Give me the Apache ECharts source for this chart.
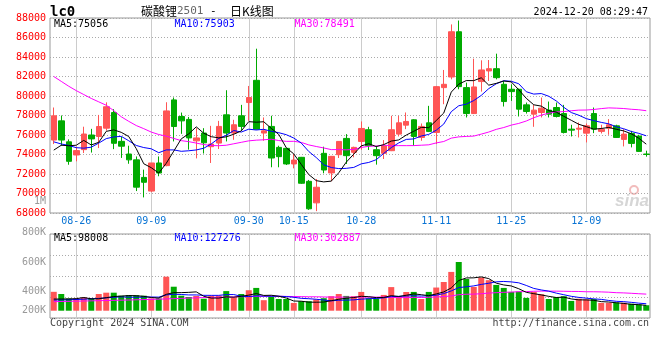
<!DOCTYPE html>
<html><head><meta charset="utf-8">
<script src="https://cdn.jsdelivr.net/npm/echarts/dist/echarts.min.js"></script>
<style>html,body{margin:0;padding:0;background:#fff}#c{width:660px;height:360px}</style>
</head><body><div id="c"></div>
<script>
const dates = ['08-21','08-22','08-23','08-26','08-27','08-28','08-29','08-30','09-02','09-03',
'09-04','09-05','09-06','09-09','09-10','09-11','09-12','09-13','09-18','09-19',
'09-20','09-23','09-24','09-25','09-26','09-27','09-30','10-08','10-09','10-10',
'10-11','10-14','10-15','10-16','10-17','10-18','10-21','10-22','10-23','10-24',
'10-25','10-28','10-29','10-30','10-31','11-01','11-04','11-05','11-06','11-07',
'11-08','11-11','11-12','11-13','11-14','11-15','11-18','11-19','11-20','11-21',
'11-22','11-25','11-26','11-27','11-28','11-29','12-02','12-03','12-04','12-05',
'12-06','12-09','12-10','12-11','12-12','12-13','12-16','12-17','12-18','12-19'];
const labelDates = ['08-26','09-09','09-30','10-15','10-28','11-11','11-25','12-09'];

const open = [75480,77450,75300,73950,74500,76000,75850,76700,78300,75350,
74050,73450,71650,70250,73130,72860,79600,77900,77600,75400,
76200,74800,75170,78070,76200,77970,79330,81610,76200,76880,
74730,74630,73030,73710,71250,69040,74120,72110,73980,75650,
74220,75340,76540,74490,74120,74390,76090,77010,77560,75750,
77250,76260,80860,81950,86590,80860,78200,81480,82570,82800,
81200,80690,80690,79090,78140,78310,78550,78820,78200,76600,
76600,76190,78200,76370,76700,76940,75550,76160,75890,74050];
const high = [78820,78000,75550,74800,76850,76630,78060,79350,78650,75800,
74900,73800,72450,73130,73800,79360,79850,78300,77850,76700,
76700,76940,77450,80590,77560,79090,81030,84850,77800,77970,
74900,74650,74050,73750,71390,71490,74800,73850,75380,76090,
74800,77390,76840,74900,75480,77970,77970,78310,77630,77180,
78990,81030,82670,87340,87740,81370,83830,83660,83690,84340,
81540,81200,80750,79330,79090,79840,79430,79330,79090,77050,
77280,77180,78820,77050,77630,77050,76600,76430,76020,74390];
const low = [75070,74900,72950,73300,74150,74200,74660,76450,74550,73650,
73050,70250,69600,70130,71770,72790,75340,76120,74500,73600,
74100,73130,74560,75340,75510,76430,77450,76570,75410,72690,
72690,72920,72580,70980,68320,68190,72070,71250,73640,73030,
73710,74490,74460,72960,73540,74350,75850,76600,74900,75410,
76300,75070,79160,81710,80690,77800,78150,80450,81540,81710,
78920,79500,77900,78200,76840,77800,77800,77800,76160,75850,
75750,75240,76190,76160,76020,75700,74830,74730,74300,73780];
const close = [77970,75480,73300,74400,76100,75600,76870,78900,75150,74850,
73450,70650,71150,73130,72100,78470,76870,77450,75700,75700,
75200,75070,76880,76200,77050,76880,79840,76600,76430,73640,
73780,73030,73430,71050,68430,70640,72410,73810,75340,73880,
74730,76670,74900,73880,74900,76540,77250,77390,75850,76880,
76370,80960,81200,86590,80960,78200,80930,82670,82800,81880,
79430,80450,78650,78410,78550,78750,78140,77900,76260,76500,
76700,76940,76600,76600,77050,75750,76090,75140,74320,74000];

const ma5 = [74450,74950,74900,74950,75450,74976,75254,76374,76524,76274,
75844,74600,73050,72646,72096,73100,74344,75604,76118,76838,
76184,75824,75710,75810,76080,76416,77370,77314,77360,76678,
76058,74696,74062,72986,71944,71316,71192,71268,72126,73216,
74034,74886,75104,74812,75016,75378,75494,75992,76386,76782,
76748,77490,78252,80400,81216,81582,81576,81870,81112,81296,
81542,81446,80642,79764,79098,78962,78500,78350,77920,77510,
77100,76860,76600,76668,76778,76588,76418,76126,75670,75060];
const ma10 = [75300,75080,74930,74700,74650,74750,75170,75630,75800,75862,
75410,74927,74712,74585,74185,74472,74472,74327,74382,74467,
74642,75084,75657,75964,76459,76300,76597,76512,76585,76379,
76237,76033,75688,75173,74311,73687,72944,72665,72556,72580,
72675,73039,73186,73469,74116,74706,75190,75548,75599,75899,
76063,76492,77122,78393,78999,79165,79533,80061,80756,81256,
81562,81511,81256,80438,80197,80252,79973,79496,78842,78304,
78031,77680,77475,77294,77144,76844,76639,76363,76169,75919];
const ma30 = [82000,81500,81000,80550,80150,79750,79400,79050,78500,77870,
77400,76970,76650,76300,76050,75880,75650,75420,75320,75170,
75020,74920,74900,74950,75100,75250,75400,75470,75510,75569,
75430,75348,75352,75241,74985,74820,74671,74501,74508,74475,
74518,74719,74844,74869,74962,74898,74910,74908,74913,74953,
74992,75188,75332,75678,75809,75853,75889,76091,76304,76578,
76767,77014,77188,77433,77771,78041,78232,78368,78399,78486,
78552,78561,78618,78708,78780,78754,78715,78640,78589,78493];

// volumes in thousands of lots
const volumeK = [345,305,223,223,243,224,305,329,329,274,
283,283,274,224,224,621,438,274,250,270,
219,274,274,358,243,305,374,416,192,256,
214,214,142,173,173,206,228,265,305,270,
265,343,228,219,288,431,265,341,343,214,
343,423,524,708,889,579,434,606,557,471,
416,343,350,234,343,301,214,248,265,179,
219,206,214,142,144,151,146,128,115,100];
const vma5K = [213,213,215,220,241,217,217,238,259,266,
277,273,262,241,231,299,330,330,335,344,
264,231,231,252,247,264,284,313,279,282,
264,232,177,173,157,155,158,183,209,228,
240,263,256,239,242,275,260,282,307,292,
275,306,343,416,551,598,600,617,586,503,
470,452,401,336,311,288,262,241,248,215,
198,197,190,166,159,145,133,116,110,98];
const vma10K = [195,null,200,null,210,null,225,null,245,253,
247,245,250,250,248,288,301,296,288,288,
281,280,280,294,295,264,258,272,266,264,
264,258,245,226,219,209,195,180,191,193,
198,211,219,224,235,258,261,269,273,267,
275,283,313,361,422,436,453,480,501,527,
534,526,509,461,407,379,357,321,292,263,
243,229,216,207,187,172,165,153,138,127];
const vma30K = [165,null,null,null,null,180,null,null,null,null,
195,null,null,null,null,215,null,null,null,null,
240,null,null,null,null,255,null,null,265,268,
264,261,258,257,254,254,251,249,248,248,
248,250,248,248,250,244,238,240,243,241,
245,251,259,270,292,301,303,310,322,329,
336,340,347,349,355,358,357,357,355,352,
351,346,346,343,338,329,325,318,310,303];

const maPriceText = ['MA5:75056','MA10:75903','MA30:78491'];
const maVolText = ['MA5:98008','MA10:127276','MA30:302887'];
const volTickLabels = ['1M','800K','600K','400K','200K'];
const titleCode = 'lc0';
const titleName = '碳酸锂';
const titleContract = '2501';
const titleSuffix = '日K线图';
const stamp = '2024-12-20 08:29:47';
const footerLeft = 'Copyright 2024 SINA.COM';
const footerRight = 'http://finance.sina.com.cn';

// ---- layout / style ----
const FONT = '"DejaVu Sans Mono", monospace';
const UP = '#ff5555', DOWN = '#00aa00';
const GRIDC = '#aaaaaa', DOT = [1, 2];
const VGRIDC = '#cccccc';
const maColors = ['#000000', '#0000ff', '#ff00ff'];
const headerX = [54, 174.5, 294.5];
const volLabelY = [201, 232, 262, 291, 310];

const chart = echarts.init(document.getElementById('c'), null, {renderer: 'canvas'});

const kdata = dates.map((d, i) => [open[i], close[i], low[i], high[i]]);
const isLabelDate = (i, v) => labelDates.indexOf(dates[i]) >= 0 || labelDates.indexOf(v) >= 0;
const vSplit = {show: true, interval: isLabelDate, alignWithLabel: true,
  lineStyle: {color: VGRIDC, type: 'solid', width: 1}};

const maLine = (data, color, gi) => ({
  type: 'line', data, xAxisIndex: gi, yAxisIndex: gi, showSymbol: false, symbol: 'none',
  connectNulls: true, z: 4, silent: true,
  lineStyle: {width: 1, color}, itemStyle: {color}
});

const txt = (x, y, text, fill, extra) => ({type: 'text', x, y, silent: true,
  style: Object.assign({text, fill, font: '10px ' + FONT, verticalAlign: 'middle', align: 'left'}, extra || {})});

const graphic = [
  txt(50, 12, titleCode, '#000', {font: 'bold 14px ' + FONT}),
  {type: 'text', x: 141, y: 11, silent: true, style: {
    text: '{a|' + titleName + '}{b|' + titleContract + '}{c| -  }{a|' + titleSuffix + '}',
    verticalAlign: 'middle',
    rich: {a: {fill: '#000', font: '12px "Noto Sans CJK SC"'},
           b: {fill: '#666', font: '11px ' + FONT},
           c: {fill: '#000', font: '11px ' + FONT}}}},
  txt(648, 12, stamp, '#000', {align: 'right'}),
  txt(50, 323, footerLeft, '#444'),
  txt(649, 323, footerRight, '#444', {align: 'right'}),
  txt(649, 201, 'sina', '#d6d6d6', {align: 'right', font: 'italic bold 17px Arial, "Liberation Sans"'}),
  {type: 'circle', silent: true, shape: {cx: 634, cy: 190, r: 4}, style: {fill: 'none', stroke: '#f2bcbc', lineWidth: 2}}
];
maPriceText.forEach((t, i) => graphic.push(txt(headerX[i], 24, t, maColors[i])));
maVolText.forEach((t, i) => graphic.push(txt(headerX[i], 238.5, t, maColors[i])));
volTickLabels.forEach((t, i) => graphic.push(txt(46, volLabelY[i], t, '#999', {align: 'right'})));

const option = {
  animation: false,
  backgroundColor: '#fff',
  grid: [
    {left: 50, right: 10, top: 18, height: 195, show: true, borderColor: '#999', borderWidth: 1},
    {left: 50, right: 10, top: 234, height: 84, show: true, borderColor: '#999', borderWidth: 1}
  ],
  xAxis: [
    {type: 'category', data: dates, gridIndex: 0, boundaryGap: true,
     axisLine: {show: false}, axisTick: {show: false, alignWithLabel: true, interval: isLabelDate},
     splitLine: vSplit,
     axisLabel: {interval: isLabelDate, color: '#0a74d4',
       fontFamily: FONT, fontSize: 10, margin: 3}},
    {type: 'category', data: dates, gridIndex: 1, boundaryGap: true,
     axisLine: {show: false}, axisTick: {show: false, alignWithLabel: true, interval: isLabelDate},
     axisLabel: {show: false, interval: isLabelDate}, splitLine: vSplit}
  ],
  yAxis: [
    {type: 'value', gridIndex: 0, min: 68000, max: 88000, interval: 2000,
     axisLine: {show: false}, axisTick: {show: false},
     splitLine: {show: true, lineStyle: {color: GRIDC, type: DOT, width: 1}},
     axisLabel: {color: '#ff0000', fontFamily: FONT, fontSize: 10, margin: 4,
       formatter: v => String(v),
       padding: [0, 0, 4, 0], showMinLabel: true, showMaxLabel: true}},
    {type: 'value', gridIndex: 1, min: -133, max: 1400, show: false, splitLine: {show: false}},
    {type: 'value', gridIndex: 1, min: 0, max: 4, interval: 1, position: 'left',
     axisLine: {show: false}, axisTick: {show: false}, axisLabel: {show: false},
     splitLine: {show: true, lineStyle: {color: GRIDC, type: DOT, width: 1}}}
  ],
  graphic,
  series: [
    {type: 'candlestick', data: kdata, xAxisIndex: 0, yAxisIndex: 0, barWidth: 6, z: 2, silent: true,
     itemStyle: {color: UP, color0: DOWN, borderColor: UP, borderColor0: DOWN, borderWidth: 1}},
    maLine(ma30, maColors[2], 0),
    maLine(ma10, maColors[1], 0),
    maLine(ma5, maColors[0], 0),
    {type: 'bar', data: volumeK, xAxisIndex: 1, yAxisIndex: 1, barWidth: 6, z: 2, silent: true,
     itemStyle: {color: p => close[p.dataIndex] >= open[p.dataIndex] ? UP : DOWN}},
    maLine(vma30K, maColors[2], 1),
    maLine(vma10K, maColors[1], 1),
    maLine(vma5K, maColors[0], 1)
  ]
};
chart.setOption(option);
</script></body></html>
